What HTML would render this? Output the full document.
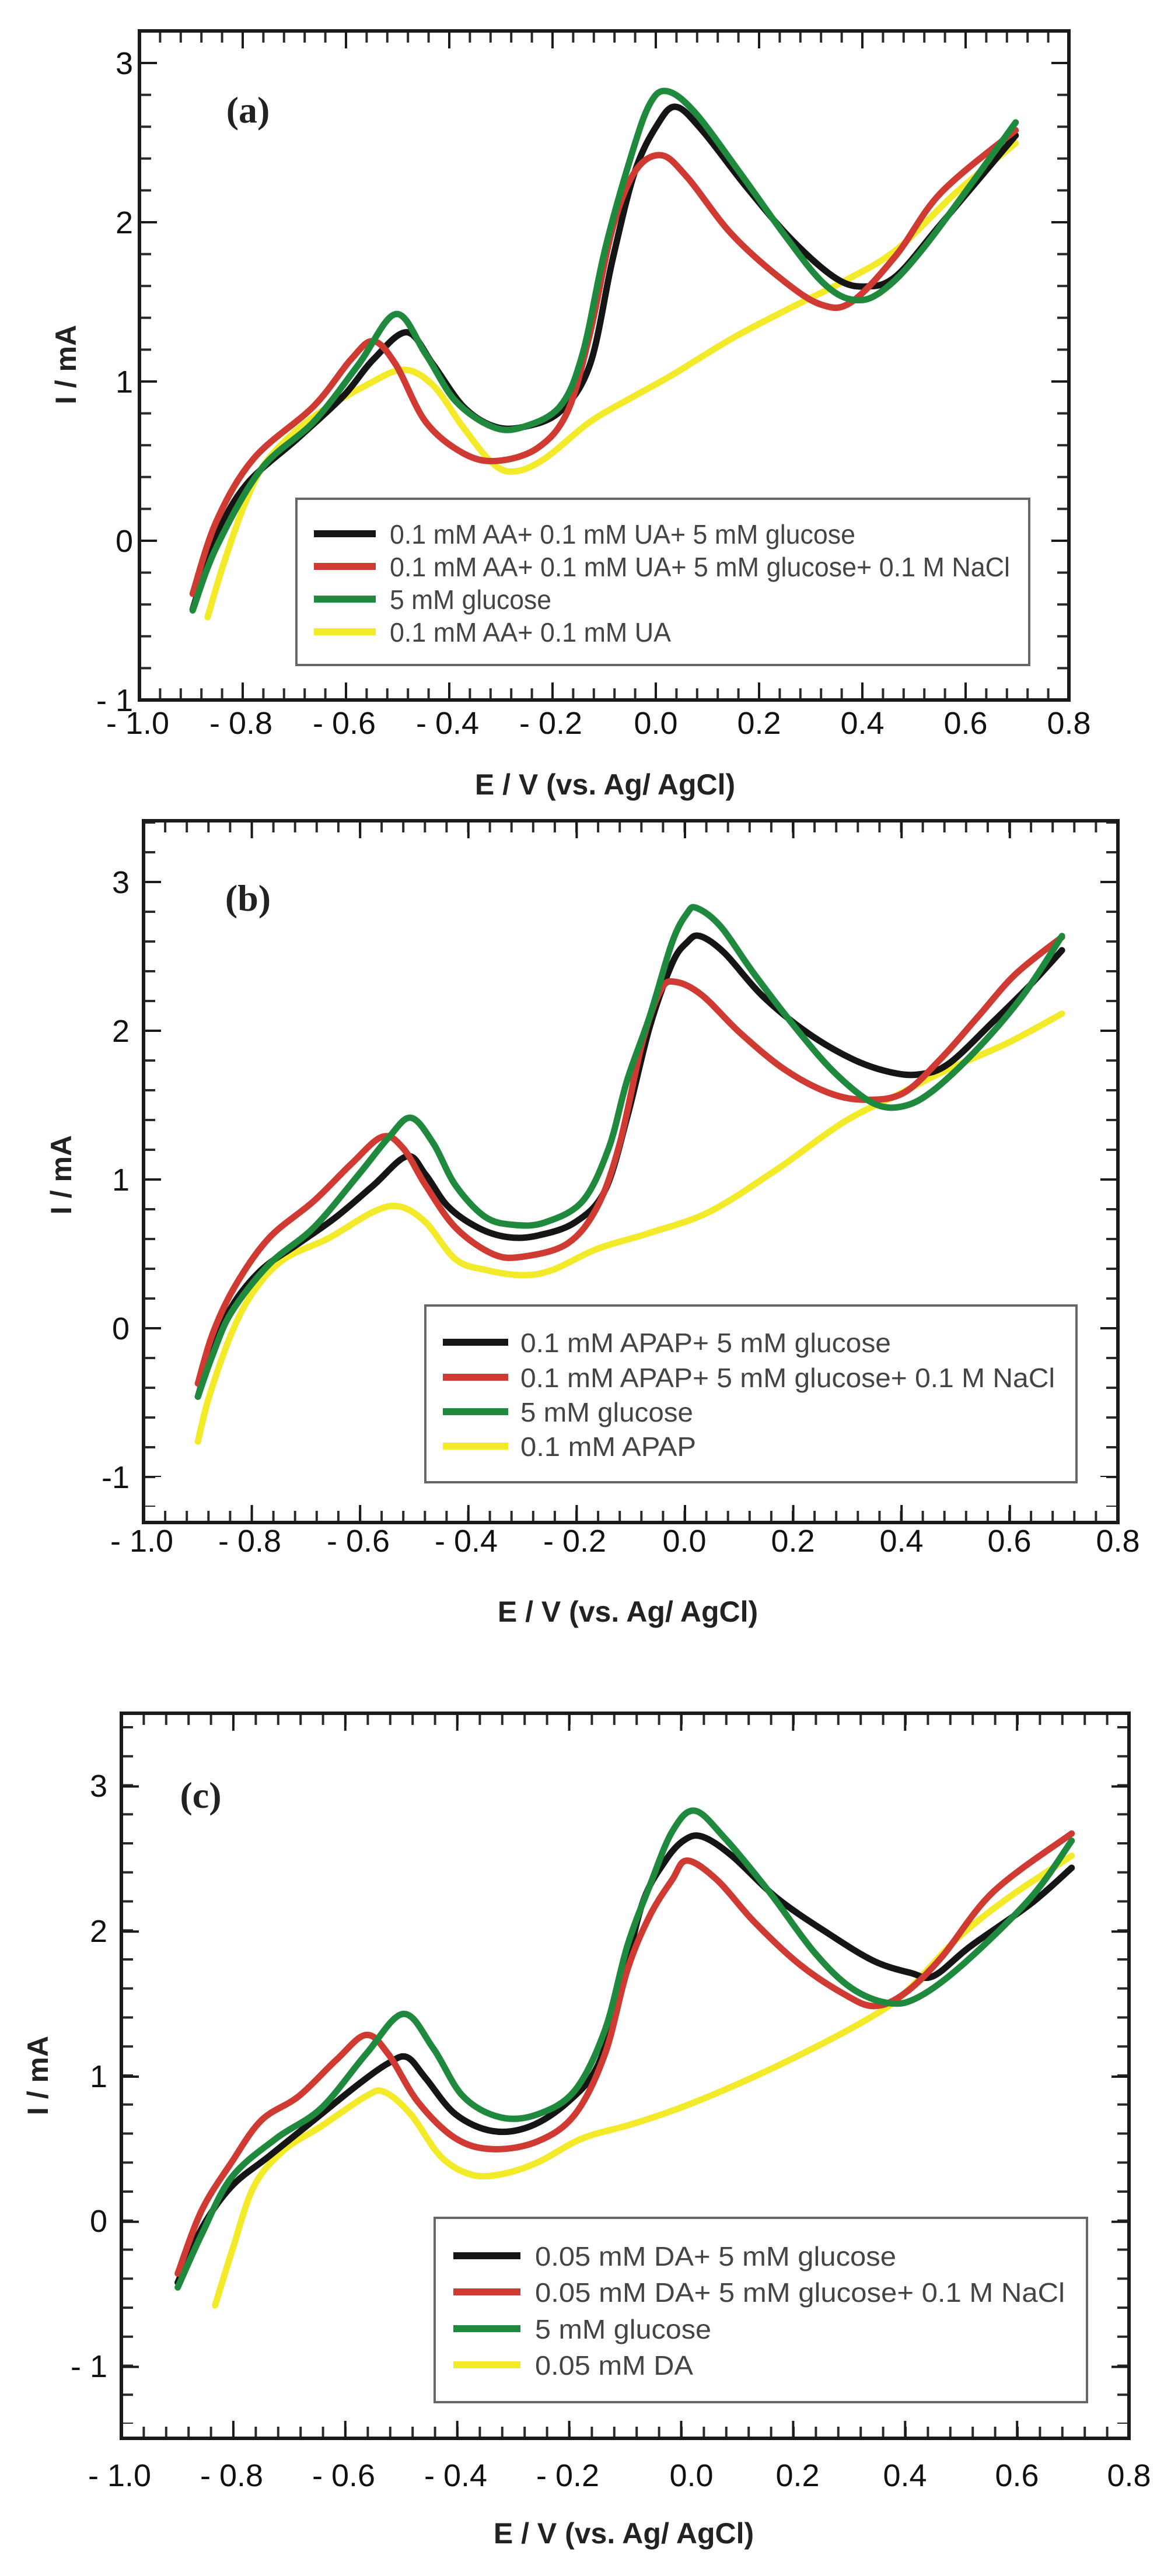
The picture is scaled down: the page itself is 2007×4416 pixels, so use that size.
<!DOCTYPE html>
<html><head><meta charset="utf-8"><style>
html,body{margin:0;padding:0;background:#fff;}
svg{display:block;}
.tk{font-family:"Liberation Sans Narrow","Liberation Sans",sans-serif;font-size:54px;fill:#111;}
.lab{font-family:"Liberation Sans",sans-serif;font-weight:bold;font-size:50px;fill:#222;}
.leg{font-family:"Liberation Sans Narrow","Liberation Sans",sans-serif;font-size:46px;fill:#444;}
.pl{font-family:"Liberation Serif",serif;font-weight:bold;font-size:64px;fill:#222;}
.c{fill:none;stroke-width:11;stroke-linejoin:round;stroke-linecap:round;vector-effect:non-scaling-stroke;}
.k{stroke:#151515}.r{stroke:#cf3a32}.g{stroke:#1f8a3e}.y{stroke:#f3ea2a}
.fr{fill:none;stroke:#1a1a1a;stroke-width:6;}
.lb{fill:#fff;stroke:#666;stroke-width:4;}
.ll{stroke-width:12;}
</style></head><body>
<svg id="s" width="2007" height="4416" viewBox="0 0 2007 4416" xmlns="http://www.w3.org/2000/svg">

<!-- ================= PANEL A ================= -->
<g transform="scale(1.27997,0.89286)">
<polyline class="c y" points="278,1185 300,1080 330,960 360,880 420,800 490,740 540,710 580,740 620,820 660,890 690,905 730,880 790,810 850,760 900,720 980,650 1060,590 1130,540 1200,480 1280,370 1360,275"/>
<polyline class="c k" points="258,1170 290,1030 330,930 400,840 460,760 500,690 545,638 580,700 620,780 660,818 700,820 750,790 790,700 820,500 850,330 880,240 905,205 940,250 1000,360 1060,460 1120,535 1160,550 1200,530 1260,430 1360,260"/>
<polyline class="c r" points="258,1140 290,1000 340,880 420,780 470,690 500,655 530,700 570,810 620,870 665,885 720,860 760,790 790,640 820,440 850,330 885,298 920,340 980,450 1050,540 1100,585 1140,580 1200,490 1260,370 1360,250"/>
<polyline class="c g" points="258,1172 290,1050 350,900 420,810 480,700 530,603 570,680 610,770 660,820 700,820 750,780 780,680 810,480 845,300 870,200 893,175 930,215 990,330 1050,450 1100,540 1140,575 1180,560 1240,470 1360,235"/>
</g>
<line x1="239" y1="63" x2="1832" y2="63" stroke="#2a2a2a" stroke-width="20" stroke-dasharray="2,31.4,2,0" />
<line x1="239" y1="1190" x2="1832" y2="1190" stroke="#2a2a2a" stroke-width="20" stroke-dasharray="2,31.4,2,0" />
<line x1="239" y1="68" x2="1832" y2="68" stroke="#1a1a1a" stroke-width="30" stroke-dasharray="2,173,2,0" />
<line x1="239" y1="1185" x2="1832" y2="1185" stroke="#1a1a1a" stroke-width="30" stroke-dasharray="2,173,2,0" />
<line x1="249" y1="1200" x2="249" y2="53" stroke="#2a2a2a" stroke-width="20" stroke-dasharray="2,50.6,2,0"/>
<line x1="1822" y1="1200" x2="1822" y2="53" stroke="#2a2a2a" stroke-width="20" stroke-dasharray="2,50.6,2,0"/>
<line x1="254" y1="1200" x2="254" y2="100" stroke="#1a1a1a" stroke-width="30" stroke-dasharray="2,269,2,0"/>
<line x1="1817" y1="1200" x2="1817" y2="100" stroke="#1a1a1a" stroke-width="30" stroke-dasharray="2,269,2,0"/>
<rect class="fr" x="239" y="53" width="1593" height="1147"/>
<g class="tk" text-anchor="end">
<text x="228" y="127">3</text><text x="228" y="400">2</text><text x="228" y="673">1</text><text x="228" y="946">0</text><text x="228" y="1219">- 1</text>
</g>
<g class="tk" text-anchor="middle">
<text x="236" y="1258">- 1.0</text><text x="413" y="1258">- 0.8</text><text x="590" y="1258">- 0.6</text><text x="767" y="1258">- 0.4</text><text x="944" y="1258">- 0.2</text>
<text x="1124" y="1258">0.0</text><text x="1301" y="1258">0.2</text><text x="1478" y="1258">0.4</text><text x="1655" y="1258">0.6</text><text x="1832" y="1258">0.8</text>
</g>
<text class="pl" x="425" y="210" text-anchor="middle">(a)</text>
<text class="lab" transform="translate(130,625) rotate(-90)" text-anchor="middle">I / mA</text>
<text class="lab" x="1037" y="1362" text-anchor="middle">E / V (vs. Ag/ AgCl)</text>
<rect class="lb" x="508" y="855" width="1256" height="285"/>
<line class="ll" x1="538" y1="915" x2="644" y2="915" stroke="#151515"/>
<line class="ll" x1="538" y1="971" x2="644" y2="971" stroke="#cf3a32"/>
<line class="ll" x1="538" y1="1027" x2="644" y2="1027" stroke="#1f8a3e"/>
<line class="ll" x1="538" y1="1083" x2="644" y2="1083" stroke="#f3ea2a"/>
<text class="leg" x="668" y="932" textLength="798" lengthAdjust="spacingAndGlyphs">0.1 mM AA+ 0.1 mM UA+ 5 mM glucose</text>
<text class="leg" x="668" y="988" textLength="1063" lengthAdjust="spacingAndGlyphs">0.1 mM AA+ 0.1 mM UA+ 5 mM glucose+ 0.1 M NaCl</text>
<text class="leg" x="668" y="1044" textLength="277" lengthAdjust="spacingAndGlyphs">5 mM glucose</text>
<text class="leg" x="668" y="1100" textLength="482" lengthAdjust="spacingAndGlyphs">0.1 mM AA+ 0.1 mM UA</text>

<!-- ================= PANEL B ================= -->
<g transform="translate(0,1380) scale(1.27997,0.90561)">
<polyline class="c y" points="265,1205 280,1120 310,1000 340,920 380,860 440,820 500,770 535,760 570,790 610,860 650,880 700,890 740,880 800,840 870,810 950,770 1040,690 1130,600 1200,550 1270,500 1350,450 1422,395"/>
<polyline class="c k" points="265,1120 285,1030 310,950 350,880 400,830 450,780 500,720 545,665 570,700 600,760 640,800 680,818 720,815 770,790 810,730 840,590 870,420 900,300 920,260 937,248 970,280 1020,360 1080,430 1140,480 1190,505 1230,510 1270,490 1330,410 1380,340 1422,275"/>
<polyline class="c r" points="265,1095 285,1000 315,910 360,820 420,750 470,680 512,628 540,650 570,720 610,800 660,850 700,855 760,830 800,760 830,640 860,450 885,350 905,335 940,360 990,430 1050,500 1110,545 1160,558 1210,545 1260,480 1310,400 1360,320 1422,250"/>
<polyline class="c g" points="265,1120 285,1040 310,960 360,870 420,800 480,700 520,630 550,592 580,640 610,720 650,780 690,795 730,790 780,750 815,650 840,520 870,400 900,260 920,205 933,195 965,230 1010,320 1070,430 1120,510 1170,565 1210,570 1250,540 1310,460 1370,360 1422,248"/>
</g>
<line x1="246" y1="1417" x2="1916" y2="1417" stroke="#2a2a2a" stroke-width="20" stroke-dasharray="2,33.1,2,0" />
<line x1="246" y1="2600" x2="1916" y2="2600" stroke="#2a2a2a" stroke-width="20" stroke-dasharray="2,33.1,2,0" />
<line x1="246" y1="1422" x2="1916" y2="1422" stroke="#1a1a1a" stroke-width="30" stroke-dasharray="2,181.6,2,0" />
<line x1="246" y1="2595" x2="1916" y2="2595" stroke="#1a1a1a" stroke-width="30" stroke-dasharray="2,181.6,2,0" />
<line x1="256" y1="2583" x2="256" y2="1407" stroke="#2a2a2a" stroke-width="20" stroke-dasharray="2,47,2,0"/>
<line x1="1906" y1="2583" x2="1906" y2="1407" stroke="#2a2a2a" stroke-width="20" stroke-dasharray="2,47,2,0"/>
<line x1="261" y1="2532" x2="261" y2="1480" stroke="#1a1a1a" stroke-width="30" stroke-dasharray="2,251,2,0"/>
<line x1="1901" y1="2532" x2="1901" y2="1480" stroke="#1a1a1a" stroke-width="30" stroke-dasharray="2,251,2,0"/>
<rect class="fr" x="246" y="1407" width="1670" height="1203"/>
<g class="tk" text-anchor="end">
<text x="222" y="1531">3</text><text x="222" y="1786">2</text><text x="222" y="2041">1</text><text x="222" y="2296">0</text><text x="222" y="2551">-1</text>
</g>
<g class="tk" text-anchor="middle">
<text x="243" y="2660">- 1.0</text><text x="428" y="2660">- 0.8</text><text x="614" y="2660">- 0.6</text><text x="799" y="2660">- 0.4</text><text x="985" y="2660">- 0.2</text>
<text x="1173" y="2660">0.0</text><text x="1359" y="2660">0.2</text><text x="1545" y="2660">0.4</text><text x="1730" y="2660">0.6</text><text x="1916" y="2660">0.8</text>
</g>
<text class="pl" x="425" y="1561" text-anchor="middle">(b)</text>
<text class="lab" transform="translate(122,2014) rotate(-90)" text-anchor="middle">I / mA</text>
<text class="lab" x="1076" y="2780" text-anchor="middle">E / V (vs. Ag/ AgCl)</text>
<rect class="lb" x="729" y="2238" width="1116" height="303"/>
<line class="ll" x1="759" y1="2301" x2="871" y2="2301" stroke="#151515"/>
<line class="ll" x1="759" y1="2361" x2="871" y2="2361" stroke="#cf3a32"/>
<line class="ll" x1="759" y1="2420" x2="871" y2="2420" stroke="#1f8a3e"/>
<line class="ll" x1="759" y1="2479" x2="871" y2="2479" stroke="#f3ea2a"/>
<text class="leg" x="892" y="2318" textLength="635" lengthAdjust="spacingAndGlyphs">0.1 mM APAP+ 5 mM glucose</text>
<text class="leg" x="892" y="2378" textLength="916" lengthAdjust="spacingAndGlyphs">0.1 mM APAP+ 5 mM glucose+ 0.1 M NaCl</text>
<text class="leg" x="892" y="2437" textLength="296" lengthAdjust="spacingAndGlyphs">5 mM glucose</text>
<text class="leg" x="892" y="2496" textLength="301" lengthAdjust="spacingAndGlyphs">0.1 mM APAP</text>

<!-- ================= PANEL C ================= -->
<g transform="translate(0,2800) scale(1.27997,1.03061)">
<polyline class="c y" points="288,1118 310,1030 340,920 380,860 430,820 490,770 515,763 550,800 590,870 630,900 670,900 720,880 780,840 850,815 930,780 1040,720 1150,650 1210,600 1280,510 1350,440 1435,370"/>
<polyline class="c k" points="238,1080 270,990 310,920 360,870 420,810 480,750 520,715 545,705 570,740 610,800 660,828 710,820 760,780 800,720 830,600 860,450 890,380 915,345 940,338 980,370 1040,440 1110,500 1170,545 1220,565 1250,570 1300,520 1380,450 1435,390"/>
<polyline class="c r" points="238,1065 270,960 310,880 350,810 400,770 450,710 490,668 520,700 560,780 610,840 660,858 720,845 770,800 810,700 840,560 870,470 900,410 920,378 960,410 1010,480 1070,550 1130,600 1170,620 1210,600 1260,540 1330,430 1435,333"/>
<polyline class="c g" points="238,1088 270,1000 310,905 370,840 430,790 490,700 540,633 580,690 620,770 670,805 720,800 770,760 810,660 840,520 870,420 900,330 930,295 970,340 1030,430 1090,530 1140,590 1190,615 1230,605 1290,550 1380,440 1435,345"/>
</g>
<line x1="208" y1="2947" x2="1935" y2="2947" stroke="#2a2a2a" stroke-width="20" stroke-dasharray="2,34.4,2,0" />
<line x1="208" y1="4170" x2="1935" y2="4170" stroke="#2a2a2a" stroke-width="20" stroke-dasharray="2,34.4,2,0" />
<line x1="208" y1="2952" x2="1935" y2="2952" stroke="#1a1a1a" stroke-width="30" stroke-dasharray="2,187.9,2,0" />
<line x1="208" y1="4165" x2="1935" y2="4165" stroke="#1a1a1a" stroke-width="30" stroke-dasharray="2,187.9,2,0" />
<line x1="218" y1="4155" x2="218" y2="2937" stroke="#2a2a2a" stroke-width="20" stroke-dasharray="2,45.75,2,0"/>
<line x1="1925" y1="4155" x2="1925" y2="2937" stroke="#2a2a2a" stroke-width="20" stroke-dasharray="2,45.75,2,0"/>
<line x1="223" y1="4155" x2="223" y2="2937" stroke="#1a1a1a" stroke-width="30" stroke-dasharray="2,244.75,2,0" stroke-dashoffset="-97.5"/>
<line x1="1920" y1="4155" x2="1920" y2="2937" stroke="#1a1a1a" stroke-width="30" stroke-dasharray="2,244.75,2,0" stroke-dashoffset="-97.5"/>
<rect class="fr" x="208" y="2937" width="1727" height="1243"/>
<g class="tk" text-anchor="end">
<text x="184" y="3080">3</text><text x="184" y="3329">2</text><text x="184" y="3578">1</text><text x="184" y="3826">0</text><text x="184" y="4075">- 1</text>
</g>
<g class="tk" text-anchor="middle">
<text x="205" y="4262">- 1.0</text><text x="397" y="4262">- 0.8</text><text x="589" y="4262">- 0.6</text><text x="781" y="4262">- 0.4</text><text x="973" y="4262">- 0.2</text>
<text x="1185" y="4262">0.0</text><text x="1367" y="4262">0.2</text><text x="1551" y="4262">0.4</text><text x="1743" y="4262">0.6</text><text x="1935" y="4262">0.8</text>
</g>
<text class="pl" x="344" y="3099" text-anchor="middle">(c)</text>
<text class="lab" transform="translate(82,3558) rotate(-90)" text-anchor="middle">I / mA</text>
<text class="lab" x="1069" y="4360" text-anchor="middle">E / V (vs. Ag/ AgCl)</text>
<rect class="lb" x="745" y="3802" width="1118" height="316"/>
<line class="ll" x1="777" y1="3867" x2="892" y2="3867" stroke="#151515"/>
<line class="ll" x1="777" y1="3929" x2="892" y2="3929" stroke="#cf3a32"/>
<line class="ll" x1="777" y1="3992" x2="892" y2="3992" stroke="#1f8a3e"/>
<line class="ll" x1="777" y1="4054" x2="892" y2="4054" stroke="#f3ea2a"/>
<text class="leg" x="917" y="3884" textLength="619" lengthAdjust="spacingAndGlyphs">0.05 mM DA+ 5 mM glucose</text>
<text class="leg" x="917" y="3946" textLength="908" lengthAdjust="spacingAndGlyphs">0.05 mM DA+ 5 mM glucose+ 0.1 M NaCl</text>
<text class="leg" x="917" y="4009" textLength="302" lengthAdjust="spacingAndGlyphs">5 mM glucose</text>
<text class="leg" x="917" y="4071" textLength="271" lengthAdjust="spacingAndGlyphs">0.05 mM DA</text>
</svg>
<script>
(function(){
var NS="http://www.w3.org/2000/svg";
var pls=document.querySelectorAll("polyline.c");
for(var i=0;i<pls.length;i++){
 var pl=pls[i];
 var pts=pl.getAttribute("points").trim().split(/\s+/).map(function(s){var a=s.split(",");return [+a[0],+a[1]];});
 var d="M"+pts[0][0]+","+pts[0][1];
 for(var j=0;j<pts.length-1;j++){
  var p0=pts[j>0?j-1:0],p1=pts[j],p2=pts[j+1],p3=pts[j+2<pts.length?j+2:j+1];
  var c1x=p1[0]+(p2[0]-p0[0])/6,c1y=p1[1]+(p2[1]-p0[1])/6;
  var c2x=p2[0]-(p3[0]-p1[0])/6,c2y=p2[1]-(p3[1]-p1[1])/6;
  d+=" C"+c1x.toFixed(1)+","+c1y.toFixed(1)+" "+c2x.toFixed(1)+","+c2y.toFixed(1)+" "+p2[0]+","+p2[1];
 }
 var p=document.createElementNS(NS,"path");
 p.setAttribute("d",d);p.setAttribute("class",pl.getAttribute("class"));
 pl.parentNode.replaceChild(p,pl);
}
})();
</script>
</body></html>
